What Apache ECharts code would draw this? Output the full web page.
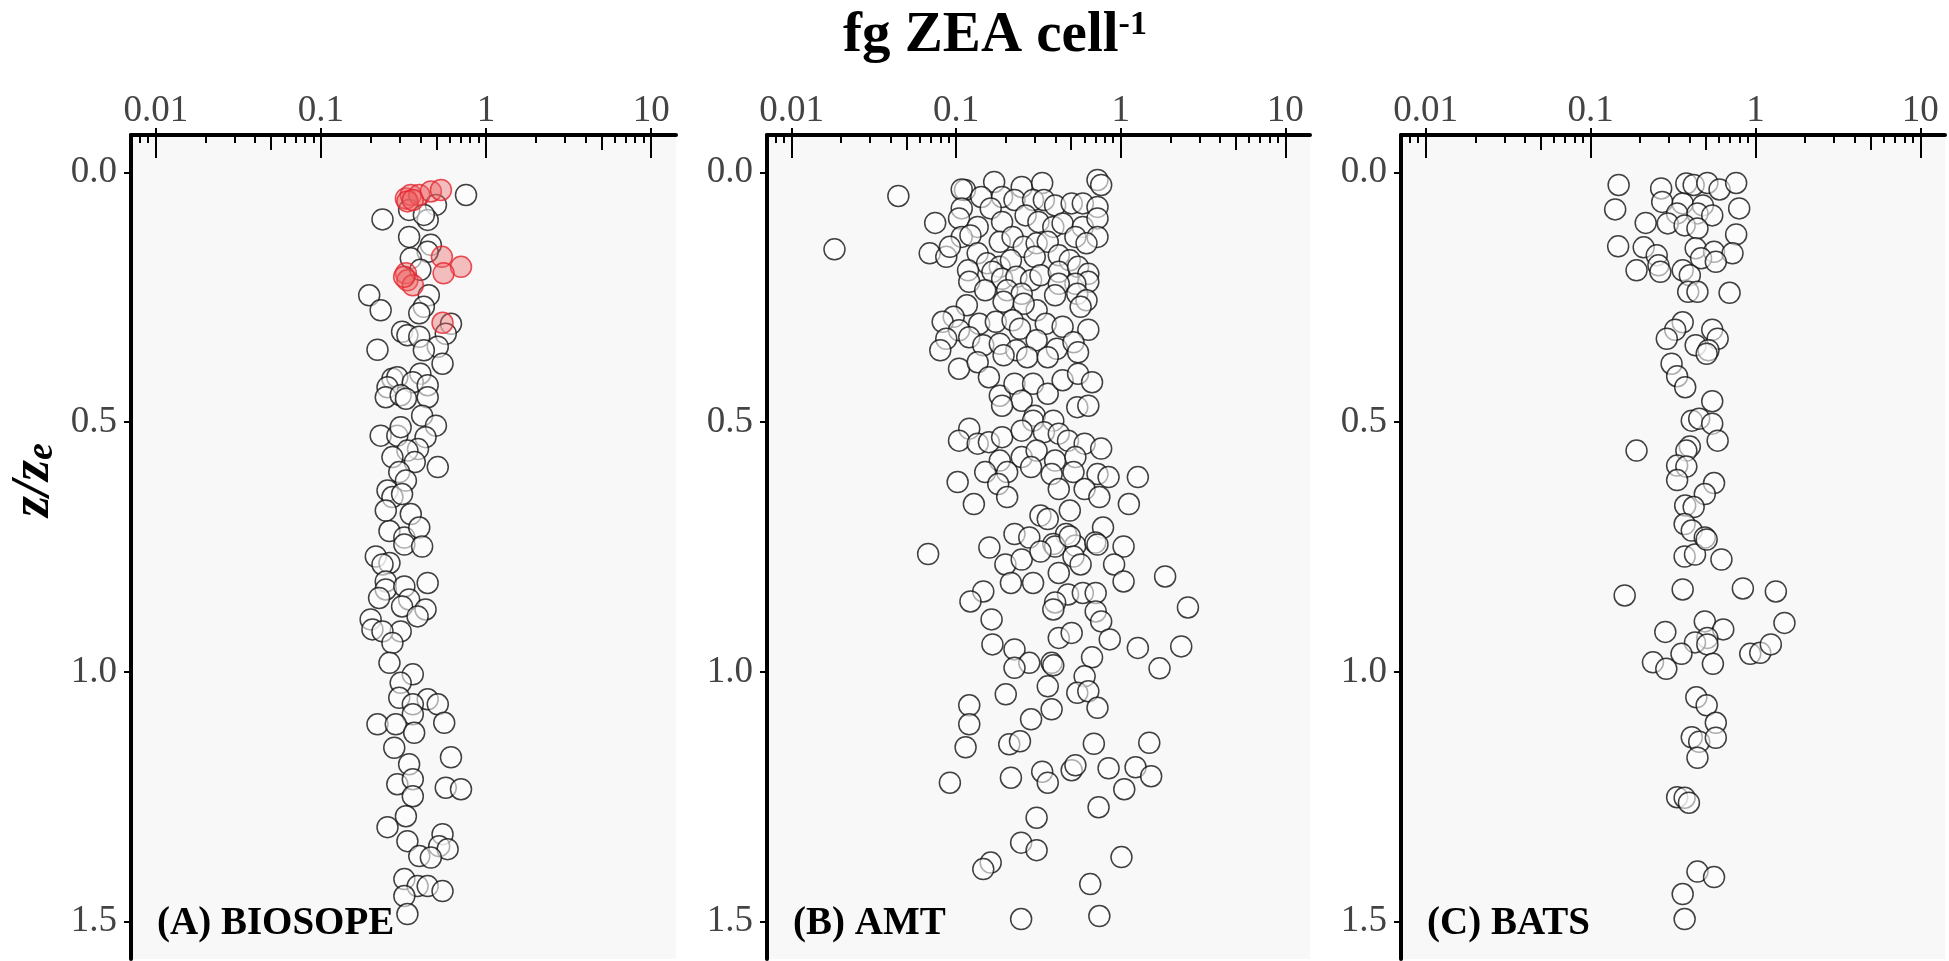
<!DOCTYPE html>
<html lang="en">
<head>
<meta charset="UTF-8">
<title>fg ZEA cell-1</title>
<style>
    html, body { margin: 0; padding: 0; background: #fff; }
    #main { width: 1949px; height: 961px; }
</style>
</head>
<body>
<div id="main"></div>
<script src="https://cdn.jsdelivr.net/npm/echarts@6/dist/echarts.min.js"></script>
<script>
// panels, ticks
var panelNames = ['(A) BIOSOPE', '(B) AMT', '(C) BATS'];
var xMajorTicks = [0.01, 0.1, 1, 10];
var xMidTicks = [0.05, 0.5, 5];
var xMinorTicks = [0.008, 0.009, 0.02, 0.03, 0.04, 0.06, 0.07, 0.08, 0.09,
    0.2, 0.3, 0.4, 0.6, 0.7, 0.8, 0.9, 2, 3, 4, 6, 7, 8, 9];
var yTicks = [0, 0.5, 1, 1.5];

// [fg ZEA cell-1, z/ze]
var biosopeRed = [
    [0.327,0.052],[0.35,0.045],[0.394,0.045],[0.463,0.038],[0.533,0.035],[0.334,0.058],[0.36,0.055],
    [0.54,0.169],[0.705,0.189],[0.553,0.202],[0.327,0.202],[0.334,0.216],[0.36,0.226],[0.319,0.209],
    [0.545,0.301]
];
var biosopeBlack = [
    [0.756,0.045],[0.497,0.065],[0.342,0.075],[0.236,0.094],[0.443,0.095],[0.42,0.085],[0.342,0.129],
    [0.463,0.145],[0.443,0.159],[0.35,0.172],[0.40,0.195],[0.45,0.246],[0.196,0.246],[0.23,0.276],
    [0.42,0.269],[0.394,0.282],[0.613,0.303],[0.57,0.323],[0.31,0.319],[0.334,0.326],[0.394,0.329],
    [0.51,0.349],[0.42,0.356],[0.22,0.355],[0.545,0.383],[0.40,0.403],[0.271,0.413],[0.29,0.41],
    [0.36,0.42],[0.253,0.43],[0.443,0.426],[0.247,0.45],[0.304,0.446],[0.327,0.453],[0.443,0.45],
    [0.41,0.487],[0.497,0.507],[0.23,0.527],[0.29,0.527],[0.304,0.51],[0.43,0.53],[0.387,0.554],
    [0.334,0.557],[0.271,0.57],[0.51,0.59],[0.37,0.58],[0.298,0.60],[0.327,0.617],[0.253,0.637],
    [0.271,0.65],[0.31,0.644],[0.35,0.684],[0.26,0.718],[0.32,0.731],[0.394,0.711],[0.247,0.677],
    [0.32,0.745],[0.41,0.749],[0.215,0.769],[0.26,0.782],[0.236,0.785],[0.443,0.822],[0.247,0.819],
    [0.247,0.835],[0.32,0.829],[0.225,0.852],[0.342,0.855],[0.31,0.869],[0.43,0.875],[0.385,0.889],
    [0.2,0.895],[0.304,0.919],[0.205,0.915],[0.236,0.919],[0.271,0.942],[0.26,0.982],[0.36,1.005],
    [0.304,1.022],[0.298,1.052],[0.443,1.055],[0.51,1.065],[0.36,1.065],[0.36,1.085],[0.22,1.105],
    [0.284,1.105],[0.558,1.102],[0.367,1.122],[0.278,1.152],[0.613,1.171],[0.342,1.185],[0.29,1.225],
    [0.36,1.215],[0.57,1.232],[0.705,1.235],[0.36,1.249],[0.327,1.289],[0.253,1.311],[0.334,1.339],
    [0.545,1.325],[0.52,1.349],[0.585,1.355],[0.394,1.369],[0.463,1.372],[0.32,1.415],[0.385,1.429],
    [0.443,1.429],[0.545,1.439],[0.32,1.449],[0.334,1.485]
];
var amtPoints = [
    [0.0445,0.047],[0.0182,0.154],[0.722,0.015],[0.76,0.025],[0.170,0.019],[0.25,0.029],[0.333,0.021],
    [0.113,0.035],[0.108,0.034],[0.142,0.049],[0.19,0.049],[0.226,0.055],[0.293,0.055],[0.341,0.055],
    [0.399,0.066],[0.503,0.062],[0.588,0.062],[0.722,0.069],[0.162,0.072],[0.108,0.072],[0.0745,0.101],
    [0.104,0.092],[0.264,0.086],[0.316,0.099],[0.389,0.109],[0.443,0.102],[0.588,0.109],[0.722,0.092],
    [0.19,0.099],[0.135,0.109],[0.108,0.129],[0.122,0.126],[0.184,0.139],[0.22,0.129],[0.257,0.149],
    [0.308,0.142],[0.36,0.139],[0.53,0.129],[0.722,0.129],[0.619,0.142],[0.069,0.162],[0.087,0.169],
    [0.0915,0.149],[0.135,0.162],[0.154,0.182],[0.184,0.189],[0.215,0.176],[0.3,0.169],[0.42,0.166],
    [0.49,0.176],[0.118,0.196],[0.166,0.199],[0.19,0.213],[0.12,0.219],[0.232,0.209],[0.285,0.216],
    [0.325,0.206],[0.42,0.199],[0.55,0.189],[0.635,0.203],[0.635,0.219],[0.53,0.223],[0.42,0.223],
    [0.15,0.236],[0.204,0.236],[0.25,0.243],[0.399,0.246],[0.544,0.243],[0.619,0.256],[0.57,0.269],
    [0.116,0.266],[0.194,0.259],[0.308,0.276],[0.257,0.263],[0.0965,0.289],[0.0827,0.299],[0.138,0.303],
    [0.174,0.299],[0.22,0.296],[0.244,0.313],[0.35,0.303],[0.443,0.309],[0.635,0.315],[0.104,0.316],
    [0.087,0.333],[0.12,0.33],[0.146,0.346],[0.184,0.343],[0.232,0.356],[0.308,0.336],[0.409,0.353],
    [0.516,0.34],[0.55,0.36],[0.08,0.356],[0.104,0.393],[0.135,0.38],[0.194,0.366],[0.27,0.37],
    [0.36,0.37],[0.158,0.41],[0.184,0.447],[0.226,0.423],[0.293,0.423],[0.36,0.443],[0.443,0.416],
    [0.55,0.403],[0.669,0.42],[0.544,0.47],[0.635,0.467],[0.25,0.457],[0.19,0.467],[0.3,0.487],
    [0.293,0.497],[0.389,0.497],[0.12,0.513],[0.104,0.537],[0.135,0.543],[0.158,0.54],[0.19,0.53],
    [0.25,0.517],[0.341,0.52],[0.42,0.523],[0.478,0.537],[0.603,0.543],[0.76,0.553],[0.184,0.577],
    [0.25,0.57],[0.308,0.557],[0.399,0.577],[0.53,0.57],[0.15,0.6],[0.204,0.6],[0.285,0.59],
    [0.38,0.604],[0.516,0.6],[0.722,0.604],[1.27,0.61],[0.102,0.62],[0.18,0.624],[0.42,0.634],
    [0.603,0.634],[0.843,0.61],[0.128,0.664],[0.204,0.65],[0.741,0.65],[1.12,0.664],[0.325,0.687],
    [0.36,0.694],[0.49,0.677],[0.78,0.711],[0.226,0.724],[0.278,0.731],[0.465,0.724],[0.389,0.744],
    [0.53,0.747],[0.70,0.741],[0.0675,0.764],[0.159,0.751],[0.399,0.749],[0.49,0.729],[0.722,0.745],
    [1.04,0.749],[0.199,0.785],[0.25,0.775],[0.325,0.759],[0.516,0.769],[0.57,0.785],[0.911,0.785],
    [0.42,0.802],[1.86,0.809],[0.215,0.822],[0.293,0.822],[1.04,0.819],[0.146,0.839],[0.122,0.859],
    [0.478,0.845],[0.588,0.842],[0.704,0.842],[2.56,0.871],[0.399,0.861],[0.389,0.875],[0.704,0.879],
    [0.76,0.899],[0.164,0.895],[0.166,0.945],[0.226,0.955],[0.42,0.932],[0.503,0.922],[0.857,0.935],
    [1.27,0.952],[2.33,0.949],[0.669,0.971],[0.278,0.982],[0.226,0.992],[0.38,0.982],[0.389,0.987],
    [1.72,0.993],[0.603,1.009],[0.36,1.029],[0.2,1.045],[0.544,1.042],[0.635,1.039],[0.12,1.067],
    [0.38,1.075],[0.722,1.072],[0.285,1.095],[0.12,1.105],[0.114,1.151],[0.21,1.145],[0.244,1.139],
    [0.686,1.144],[1.49,1.142],[0.0915,1.222],[0.215,1.212],[0.333,1.2],[0.36,1.222],[0.503,1.197],
    [0.53,1.187],[0.843,1.193],[1.23,1.191],[1.53,1.209],[1.05,1.235],[0.733,1.271],[0.308,1.292],
    [0.248,1.342],[0.308,1.357],[0.162,1.382],[0.146,1.395],[1.01,1.371],[0.652,1.425],[0.248,1.495],
    [0.741,1.489]
];
var batsPoints = [
    [0.148,0.025],[0.141,0.074],[0.268,0.032],[0.272,0.059],[0.381,0.022],[0.422,0.025],[0.511,0.021],
    [0.606,0.034],[0.764,0.021],[0.362,0.062],[0.48,0.066],[0.797,0.072],[0.335,0.082],[0.445,0.082],
    [0.547,0.086],[0.216,0.101],[0.294,0.102],[0.372,0.106],[0.445,0.112],[0.764,0.124],[0.147,0.148],
    [0.21,0.15],[0.252,0.166],[0.434,0.152],[0.561,0.159],[0.726,0.162],[0.468,0.172],[0.575,0.179],
    [0.19,0.196],[0.258,0.186],[0.265,0.199],[0.362,0.196],[0.4,0.206],[0.391,0.239],[0.445,0.239],
    [0.697,0.241],[0.362,0.3],[0.326,0.315],[0.29,0.333],[0.547,0.315],[0.59,0.333],[0.434,0.346],
    [0.519,0.356],[0.506,0.363],[0.31,0.383],[0.335,0.408],[0.375,0.43],[0.547,0.458],[0.411,0.497],
    [0.456,0.493],[0.547,0.503],[0.59,0.537],[0.19,0.557],[0.4,0.549],[0.381,0.557],[0.335,0.587],
    [0.381,0.589],[0.335,0.616],[0.561,0.622],[0.493,0.644],[0.375,0.667],[0.422,0.67],[0.372,0.704],
    [0.411,0.717],[0.493,0.731],[0.372,0.769],[0.43,0.765],[0.506,0.735],[0.622,0.775],[0.161,0.847],
    [0.362,0.835],[0.839,0.833],[1.33,0.839],[1.5,0.902],[0.284,0.92],[0.493,0.899],[0.638,0.915],
    [0.511,0.932],[0.43,0.941],[0.356,0.964],[0.511,0.945],[0.239,0.981],[0.288,0.994],[0.552,0.984],
    [0.93,0.964],[1.07,0.962],[1.24,0.945],[0.438,1.051],[0.506,1.067],[0.575,1.102],[0.411,1.131],
    [0.456,1.14],[0.575,1.132],[0.445,1.172],[0.335,1.251],[0.372,1.252],[0.395,1.262],[0.445,1.4],
    [0.561,1.411],[0.362,1.445],[0.372,1.495]
];

var gridBoxes = [
    {left: 131, width: 545},
    {left: 767, width: 543},
    {left: 1401, width: 544}
];

function lg(v) { return Math.log10(v); }
function toLog(arr) { return arr.map(function (p) { return [lg(p[0]), p[1]]; }); }

var serifFont = '"Liberation Serif", "DejaVu Serif", serif';
var grids = [], xAxes = [], yAxes = [], series = [], graphics = [];

gridBoxes.forEach(function (g, i) {
    grids.push({
        left: g.left, top: 135, width: g.width, height: 824,
        show: true, backgroundColor: '#f8f8f8', borderWidth: 0
    });
    var base = {
        gridIndex: i, type: 'value', position: 'top', min: -2.15, max: 1.15,
        splitLine: {show: false}
    };
    // main axis: line, outward ticks, labels
    xAxes.push(Object.assign({}, base, {
        axisLine: {show: true, onZero: false, lineStyle: {color: '#000', width: 4}},
        axisTick: {show: true, inside: false, length: 7, customValues: xMajorTicks.map(lg),
            lineStyle: {color: '#000', width: 2}},
        axisLabel: {show: true, customValues: xMajorTicks.map(lg), margin: 5,
            fontFamily: serifFont, fontSize: 37, color: '#444',
            formatter: function (v) { return String(Math.round(Math.pow(10, v) * 100) / 100); }}
    }));
    // log ticks inside the panel
    [[xMajorTicks, 23], [xMidTicks, 15], [xMinorTicks, 8]].forEach(function (t) {
        xAxes.push(Object.assign({}, base, {
            axisLine: {show: false, onZero: false},
            axisTick: {show: true, inside: true, length: t[1], customValues: t[0].map(lg),
                lineStyle: {color: '#000', width: 2}},
            axisLabel: {show: false}
        }));
    });
    yAxes.push({
        gridIndex: i, type: 'value', inverse: true, min: -0.075, max: 1.575,
        splitLine: {show: false},
        axisLine: {show: true, onZero: false, lineStyle: {color: '#000', width: 4}},
        axisTick: {show: true, inside: false, length: 7, customValues: yTicks,
            lineStyle: {color: '#000', width: 2}},
        axisLabel: {show: true, customValues: yTicks, margin: 14,
            fontFamily: serifFont, fontSize: 37, color: '#444',
            formatter: function (v) { return v.toFixed(1); }}
    });
    graphics.push({
        type: 'text', left: g.left + 26, top: 904, z: 100,
        style: {text: panelNames[i], font: 'bold 39px ' + serifFont, fill: '#000'}
    });
});

var pointStyle = {color: 'rgba(255,255,255,0.72)', borderColor: '#111', borderWidth: 1.5};
var panelData = [biosopeBlack, amtPoints, batsPoints];
panelData.forEach(function (d, i) {
    series.push({
        type: 'scatter', xAxisIndex: i * 4, yAxisIndex: i, data: toLog(d),
        symbolSize: 21, itemStyle: pointStyle, silent: true
    });
});
series.push({
    type: 'scatter', xAxisIndex: 0, yAxisIndex: 0, data: toLog(biosopeRed),
    symbolSize: 21, silent: true,
    itemStyle: {color: 'rgba(238,100,100,0.5)', borderColor: '#e3262e', borderWidth: 1.5}
});

// title and y label
graphics.push({
    type: 'text', x: 995, y: 8, z: 100,
    style: {
        text: '{a|fg ZEA cell}{b|-1}', align: 'center', verticalAlign: 'top',
        rich: {
            a: {font: 'bold 57px ' + serifFont, fill: '#000', verticalAlign: 'bottom'},
            b: {font: 'bold 34px ' + serifFont, fill: '#000', verticalAlign: 'top'}
        }
    }
});
graphics.push({
    type: 'text', x: 34, y: 480, rotation: Math.PI / 2, z: 100,
    style: {
        text: '{a|z/z}{b|e}', align: 'center', verticalAlign: 'middle',
        rich: {
            a: {font: 'italic bold 54px ' + serifFont, fill: '#000', verticalAlign: 'top'},
            b: {font: 'italic bold 38px ' + serifFont, fill: '#000', verticalAlign: 'bottom'}
        }
    }
});

var chart = echarts.init(document.getElementById('main'));
chart.setOption({
    animation: false,
    backgroundColor: '#fff',
    grid: grids,
    xAxis: xAxes,
    yAxis: yAxes,
    series: series,
    graphic: graphics
});
</script>
</body>
</html>
